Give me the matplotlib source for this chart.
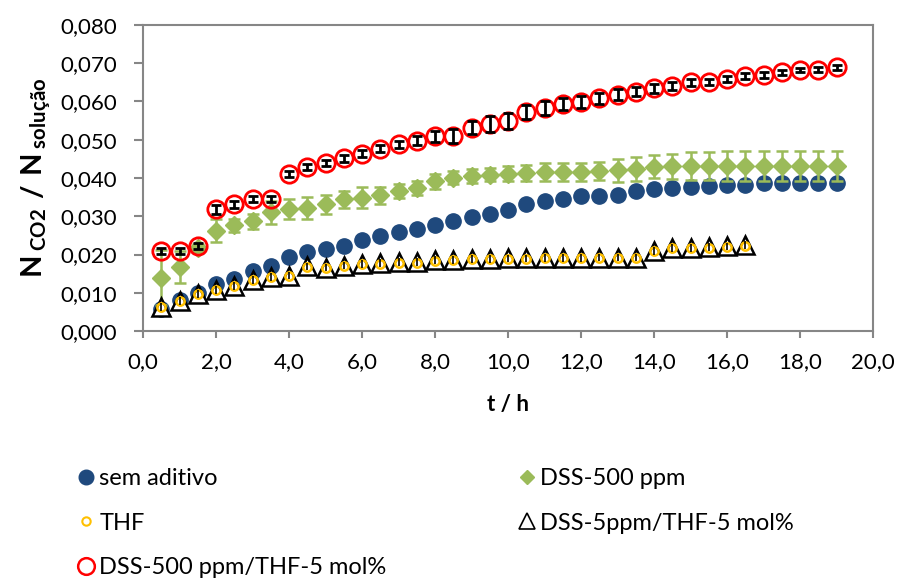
import matplotlib.pyplot as plt
from matplotlib.lines import Line2D
from matplotlib.ticker import FuncFormatter, MultipleLocator

plt.rcParams['font.family'] = ['Lato', 'DejaVu Sans']
plt.rcParams['mathtext.fontset'] = 'custom'
plt.rcParams['mathtext.bf'] = 'Lato:bold'
plt.rcParams['mathtext.rm'] = 'Lato'

# tempos (h)
t_long = [0.5, 1.0, 1.5, 2.0, 2.5, 3.0, 3.5, 4.0, 4.5, 5.0, 5.5, 6.0, 6.5, 7.0, 7.5,
          8.0, 8.5, 9.0, 9.5, 10.0, 10.5, 11.0, 11.5, 12.0, 12.5, 13.0, 13.5, 14.0,
          14.5, 15.0, 15.5, 16.0, 16.5, 17.0, 17.5, 18.0, 18.5, 19.0]
t_short = t_long[:33]

# sem aditivo
sem_aditivo = [0.0058, 0.0081, 0.0099, 0.0122, 0.0136, 0.0156, 0.0171, 0.0193, 0.0206,
               0.0215, 0.0222, 0.0237, 0.0248, 0.0258, 0.0267, 0.0277, 0.0287, 0.0299,
               0.0306, 0.0317, 0.0331, 0.0339, 0.0344, 0.0352, 0.0354, 0.0356, 0.0365,
               0.0370, 0.0374, 0.0376, 0.0379, 0.0381, 0.0383, 0.0386, 0.0388, 0.0388,
               0.0388, 0.0388]

# DSS-500 ppm
dss500 = [0.0139, 0.0168, 0.0218, 0.0262, 0.0276, 0.0287, 0.0311, 0.0320, 0.0322,
          0.0331, 0.0344, 0.0349, 0.0355, 0.0366, 0.0374, 0.0391, 0.0401, 0.0405,
          0.0408, 0.0411, 0.0413, 0.0416, 0.0416, 0.0416, 0.0418, 0.0420, 0.0424,
          0.0429, 0.0431, 0.0432, 0.0432, 0.0432, 0.0432, 0.0432, 0.0432, 0.0432,
          0.0432, 0.0432]
dss500_err = [0.0072, 0.0042, 0.0010, 0.0030, 0.0018, 0.0020, 0.0030, 0.0026, 0.0028,
              0.0024, 0.0022, 0.0028, 0.0022, 0.0019, 0.0019, 0.0020, 0.0017, 0.0019,
              0.0017, 0.0020, 0.0021, 0.0023, 0.0024, 0.0024, 0.0024, 0.0030, 0.0031,
              0.0030, 0.0033, 0.0036, 0.0037, 0.0039, 0.0039, 0.0039, 0.0039, 0.0039,
              0.0039, 0.0039]

# THF
thf = [0.0062, 0.0078, 0.0096, 0.0106, 0.0117, 0.0133, 0.0141, 0.0144, 0.0167, 0.0165,
       0.0170, 0.0175, 0.0176, 0.0179, 0.0179, 0.0184, 0.0185, 0.0187, 0.0188, 0.0189,
       0.0189, 0.0190, 0.0190, 0.0190, 0.0191, 0.0191, 0.0191, 0.0208, 0.0216, 0.0216,
       0.0218, 0.0220, 0.0223]

# DSS-5ppm/THF-5 mol%
dss5_thf = [0.0063, 0.0079, 0.0097, 0.0107, 0.0118, 0.0134, 0.0142, 0.0145, 0.0169,
            0.0166, 0.0171, 0.0176, 0.0177, 0.0180, 0.0180, 0.0185, 0.0186, 0.0188,
            0.0189, 0.0190, 0.0190, 0.0191, 0.0191, 0.0191, 0.0192, 0.0192, 0.0192,
            0.0209, 0.0217, 0.0217, 0.0219, 0.0221, 0.0224]
dss5_thf_err = [0.0010] * 33

# DSS-500 ppm/THF-5 mol%
dss500_thf = [0.0210, 0.0210, 0.0223, 0.0318, 0.0331, 0.0344, 0.0344, 0.0410, 0.0428,
              0.0440, 0.0451, 0.0464, 0.0477, 0.0488, 0.0497, 0.0509, 0.0509, 0.0532,
              0.0541, 0.0549, 0.0572, 0.0582, 0.0593, 0.0599, 0.0608, 0.0618, 0.0626,
              0.0634, 0.0640, 0.0650, 0.0651, 0.0659, 0.0667, 0.0669, 0.0676, 0.0682,
              0.0683, 0.0689]
dss500_thf_err = [0.0008, 0.0008, 0.0008, 0.0012, 0.0010, 0.0008, 0.0008, 0.0007, 0.0008,
                  0.0008, 0.0008, 0.0008, 0.0008, 0.0010, 0.0012, 0.0015, 0.0018, 0.0018,
                  0.0020, 0.0020, 0.0018, 0.0018, 0.0016, 0.0016, 0.0015, 0.0014, 0.0012,
                  0.0012, 0.0010, 0.0010, 0.0009, 0.0008, 0.0008, 0.0007, 0.0006, 0.0006,
                  0.0006, 0.0006]

labels = ['sem aditivo', 'DSS-500 ppm', 'THF', 'DSS-5ppm/THF-5 mol%', 'DSS-500 ppm/THF-5 mol%']

c_blue = '#1F497D'
c_green = '#9BBB59'
c_yellow = '#FFC000'
c_red = '#FF0000'
c_gray = '#868686'

fig = plt.figure(figsize=(9.01, 5.84), dpi=100)
ax = fig.add_axes([143 / 901, 1 - 331 / 584, 730 / 901, 306 / 584])

ax.plot(t_long, sem_aditivo, 'o', color=c_blue, markersize=11, zorder=2)
ax.errorbar(t_long, dss500, yerr=dss500_err, fmt='none', ecolor=c_green,
            elinewidth=1.8, capsize=4.5, capthick=1.8, zorder=2.9)
ax.plot(t_long, dss500, 'D', color=c_green, markersize=9, zorder=3)
ax.plot(t_short, dss5_thf, '^', markerfacecolor='white', markeredgecolor='black',
        markeredgewidth=1.8, markersize=13, zorder=4)
ax.plot(t_short, thf, 'o', markerfacecolor='none', markeredgecolor=c_yellow,
        markeredgewidth=1.8, markersize=6, zorder=5)
ax.errorbar(t_short, dss5_thf, yerr=dss5_thf_err, fmt='none', ecolor='black',
            elinewidth=1.2, capsize=0, zorder=6)
ax.plot(t_long, dss500_thf, 'o', markerfacecolor='none', markeredgecolor=c_red,
        markeredgewidth=2, markersize=12.5, zorder=7)
ax.errorbar(t_long, dss500_thf, yerr=dss500_thf_err, fmt='none', ecolor='black',
            elinewidth=2, capsize=3.5, capthick=2, zorder=8)

ax.set_xlim(0, 20)
ax.set_ylim(0, 0.08)
ax.xaxis.set_major_locator(MultipleLocator(2))
ax.yaxis.set_major_locator(MultipleLocator(0.01))
ax.xaxis.set_major_formatter(FuncFormatter(lambda v, p: f'{v:.1f}'.replace('.', ',')))
ax.yaxis.set_major_formatter(FuncFormatter(lambda v, p: f'{v:.3f}'.replace('.', ',')))
for s in ax.spines.values():
    s.set_color(c_gray)
    s.set_linewidth(1.5)
ax.tick_params(direction='out', width=1.5, color=c_gray, labelsize=16)
ax.tick_params(axis='x', length=5, pad=10)
ax.tick_params(axis='y', length=6.5, pad=12)

ax.set_xlabel('t / h', fontsize=16, fontweight='bold', labelpad=16)
ax.set_ylabel(r'$\mathbf{N}\,_{\mathbf{CO2}}\ \mathbf{/}\ \mathbf{N}\,_{\mathbf{solução}}$',
              fontsize=21, labelpad=5)

handles = [
    Line2D([], [], ls='none', marker='o', color=c_blue, markersize=10.5),
    Line2D([], [], ls='none', marker='o', markerfacecolor='none', markeredgecolor=c_yellow,
           markeredgewidth=1.5, markersize=6),
    Line2D([], [], ls='none', marker='o', markerfacecolor='none', markeredgecolor=c_red,
           markeredgewidth=1.8, markersize=12),
    Line2D([], [], ls='none', marker='D', color=c_green, markersize=7),
    Line2D([], [], ls='none', marker='^', markerfacecolor='none', markeredgecolor='black',
           markeredgewidth=1.2, markersize=12),
]
leg_labels = [labels[0], labels[2], labels[4], labels[1], labels[3]]
fig.legend(handles, leg_labels, ncol=2, loc='upper left', bbox_to_anchor=(0.075, 0.218),
           frameon=False, fontsize=17, handlelength=0.6, handletextpad=0.25,
           columnspacing=5.65, labelspacing=0.98, borderpad=0)

fig.savefig('out.png', dpi=100)
